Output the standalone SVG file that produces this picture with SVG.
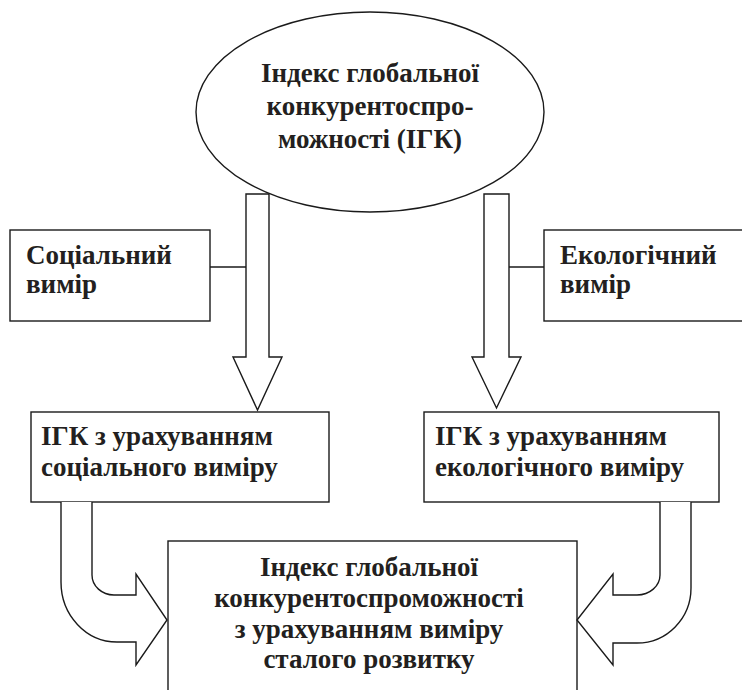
<svg xmlns="http://www.w3.org/2000/svg" width="742" height="690" viewBox="0 0 742 690">
<style>
.s{fill:#fff;stroke:#1a1a1a;stroke-width:1.4}
.t{font-family:'Liberation Serif','Times New Roman',serif;font-weight:700;font-size:27px;fill:#231f20}
.c{text-anchor:middle}
</style>
<rect width="742" height="690" fill="#fff"/>
<g id="connectors">
<line class="s" x1="210" y1="267" x2="246" y2="267"/>
<line class="s" x1="509" y1="267" x2="544" y2="267"/>
<path id="arrow-left-down" class="s" d="M246 194 L269 194 L269 357 L282 357 L257.5 410 L233 357 L246 357 Z"/>
<path id="arrow-right-down" class="s" d="M484 194 L509 194 L509 357 L521 357 L496.5 408 L472 357 L484 357 Z"/>
</g>
<g id="n-igk">
<ellipse class="s" cx="370" cy="112" rx="174" ry="100"/>
<text class="t c" x="370" y="82">Індекс глобальної</text>
<text class="t c" x="370" y="115">конкурентоспро-</text>
<text class="t c" x="370" y="148">можності (ІГК)</text>
</g>
<g id="n-social">
<rect class="s" x="10" y="230" width="200" height="91"/>
<text class="t" x="26" y="264">Соціальний</text>
<text class="t" x="26" y="293">вимір</text>
</g>
<g id="n-eco">
<rect class="s" x="544" y="230" width="200" height="91"/>
<text class="t" x="560" y="264">Екологічний</text>
<text class="t" x="560" y="293">вимір</text>
</g>
<g id="n-igk-social">
<rect class="s" x="31" y="412" width="298" height="90"/>
<text class="t" x="41" y="445">ІГК з урахуванням</text>
<text class="t" x="41" y="476">соціального виміру</text>
</g>
<g id="n-igk-eco">
<rect class="s" x="424" y="412" width="295" height="90"/>
<text class="t" x="435" y="445">ІГК з урахуванням</text>
<text class="t" x="435" y="476">екологічного виміру</text>
</g>
<g id="n-final">
<rect class="s" x="168" y="541" width="409" height="170"/>
<text class="t c" x="369" y="576">Індекс глобальної</text>
<text class="t c" x="369" y="607">конкурентоспроможності</text>
<text class="t c" x="369" y="638">з урахуванням виміру</text>
<text class="t c" x="369" y="668">сталого розвитку</text>
</g>
<g id="curved-connectors">
<path class="s" d="M61 502 L61 582 A56 60 0 0 0 117 642 L136 642 L136 665 L167 620 L136 574 L136 595 L114 595 A22 20 0 0 1 92 575 L92 502"/>
<path class="s" d="M691 502 L691 588 A54 55 0 0 1 637 643 L613 643 L613 665 L577 620 L613 574 L613 595 L637 595 A23 20 0 0 0 660 575 L660 502"/>
</g>
</svg>
